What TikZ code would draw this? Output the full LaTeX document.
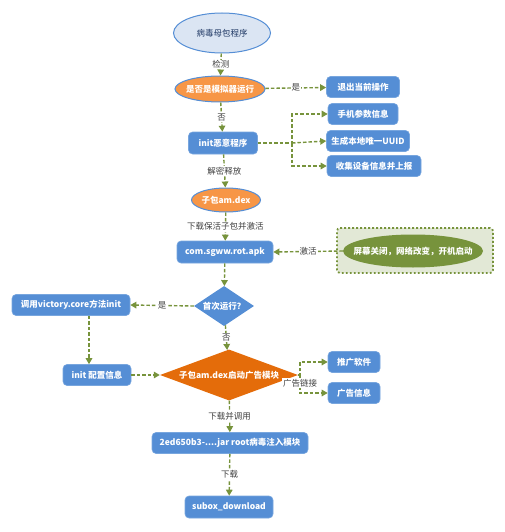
\documentclass[tikz,border=0pt]{standalone}
\usepackage{fontspec}
\setmainfont{Noto Sans CJK SC}
\usetikzlibrary{arrows.meta,shapes.geometric}
\definecolor{boxblue}{RGB}{85,142,213}
\definecolor{boxedge}{RGB}{120,166,222}
\definecolor{topfill}{RGB}{219,229,243}
\definecolor{darkblue}{RGB}{31,56,100}
\definecolor{orangeA}{RGB}{247,150,70}
\definecolor{orangeB}{RGB}{228,108,10}
\definecolor{olivec}{RGB}{119,147,60}
\definecolor{panelfill}{RGB}{226,232,214}
\definecolor{labelgray}{RGB}{64,64,64}
\begin{document}
\begin{tikzpicture}[x=1pt,y=-1pt,
  font=\fontsize{8.5}{10}\selectfont,
  box/.style={rectangle, rounded corners=4pt, fill=boxblue, draw=boxedge, line width=0.6pt,
    text=white, font=\fontsize{8.5}{10}\selectfont\bfseries, minimum height=21pt, inner sep=2pt},
  wtext/.style={text=white, font=\fontsize{8.5}{10}\selectfont\bfseries, inner sep=0pt},
  conn/.style={draw=olivec, line width=1.4pt, dash pattern=on 3.5pt off 2pt,
    -{Triangle[length=6pt,width=6.5pt]}},
  lbl/.style={fill=white, text=labelgray, inner sep=1pt, font=\fontsize{8.5}{10}\selectfont}
]
\useasboundingbox (0,0) rectangle (505,532);

% top ellipse
\node[ellipse, fill=topfill, draw=boxblue, line width=1pt, minimum width=97pt, minimum height=40pt,
  text=darkblue, inner sep=0pt] (mother) at (222,33) {病毒母包程序};

% emulator check
\node[ellipse, fill=orangeA, draw=boxblue, line width=1pt, minimum width=90pt, minimum height=26pt,
  inner sep=0pt] (emu) at (220,89) {};
\node[wtext] (emut) at (emu) {是否是模拟器运行};

\node[box, minimum width=73pt] (quit) at (363,87) {退出当前操作};

\node[box, minimum width=69pt, minimum height=22pt] (init) at (223,143) {init恶意程序};
\node[box, minimum width=70pt] (phone) at (363,114) {手机参数信息};
\node[box, minimum width=83pt] (uuid) at (368,141) {生成本地唯一UUID};
\node[box, minimum width=94pt] (collect) at (374,166) {收集设备信息并上报};
\coordinate (j1) at (292,143);

% sub package ellipse
\node[ellipse, fill=orangeA, draw=boxblue, line width=1pt, minimum width=69pt, minimum height=24pt,
  inner sep=0pt] (dex) at (226,200) {};
\node[wtext] (dext) at (dex) {子包am.dex};

\node[box, minimum width=96pt, minimum height=22pt] (apk) at (225,252) {com.sgww.rot.apk};

% trigger panel
\node[rectangle, rounded corners=3pt, fill=panelfill, draw=olivec, line width=1.8pt,
  dash pattern=on 1.8pt off 2.2pt, minimum width=156pt, minimum height=45pt] (panel) at (415,250.5) {};
\node[ellipse, fill=olivec, minimum width=140pt, minimum height=33pt, inner sep=0pt] (trig) at (413,251) {};
\node[wtext] (trigt) at (trig) {屏幕关闭，网络改变，开机启动};

% first run diamond
\node[diamond, fill=boxblue, minimum width=60pt, minimum height=40pt, inner sep=0pt] (first) at (224,306) {};
\node[wtext] (firstt) at (first) {首次运行？};

\node[box, minimum width=118pt] (victory) at (71,305) {调用victory.core方法init};
\node[box, minimum width=68pt] (cfg) at (97,375) {init 配置信息};

% ad module diamond
\node[diamond, fill=orangeB, minimum width=138pt, minimum height=51pt, inner sep=0pt] (ad) at (229,375) {};
\node[wtext] (adt) at (ad) {子包am.dex启动广告模块};
\coordinate (j2) at (300,375);

\node[box, minimum width=52pt] (promo) at (354,362) {推广软件};
\node[box, minimum width=52pt] (adinfo) at (354,393) {广告信息};

\node[box, minimum width=156pt] (root) at (230,443) {2ed650b3-....jar root病毒注入模块};
\node[box, minimum width=88pt, minimum height=22pt] (subox) at (229,507) {subox\_download};

% connectors
\draw[conn] (mother) -- node[lbl] (l1) {检测} (emu);
\draw[conn] (emu) -- node[lbl] (l2) {是} (quit);
\draw[conn] (emu) -- node[lbl] (l3) {否} (init);
\draw[conn] (init.east) -- (j1) |- (phone.west);
\draw[conn] (j1) -- (uuid.west);
\draw[conn] (j1) |- (collect.west);
\draw[conn] (init) -- node[lbl] (l4) {解密释放} (dex);
\draw[conn] (dex) -- node[lbl] (l5) {下载保活子包并激活} (apk);
\draw[conn] (trig.west) -- node[lbl] (l6) {激活} (apk.east);
\draw[conn] (apk) -- (first);
\draw[conn] (first.west) -- node[lbl] (l7) {是} (victory.east);
\draw[conn] (first) -- node[lbl] (l8) {否} (ad);
\draw[conn] ([xshift=18pt]victory.south) -- ([xshift=18pt]victory.south |- cfg.north);
\draw[conn] (cfg.east) -- (ad.west);
\draw[conn] (ad.east) -- (j2) |- (promo.west);
\draw[conn] (j2) |- (adinfo.west);
\node[lbl] (l9) at (300,383) {广告链接};
\draw[conn] (ad) -- node[lbl] (l10) {下载并调用} (root);
\draw[conn] (root) -- node[lbl] (l11) {下载} (subox);
\end{tikzpicture}
\end{document}
